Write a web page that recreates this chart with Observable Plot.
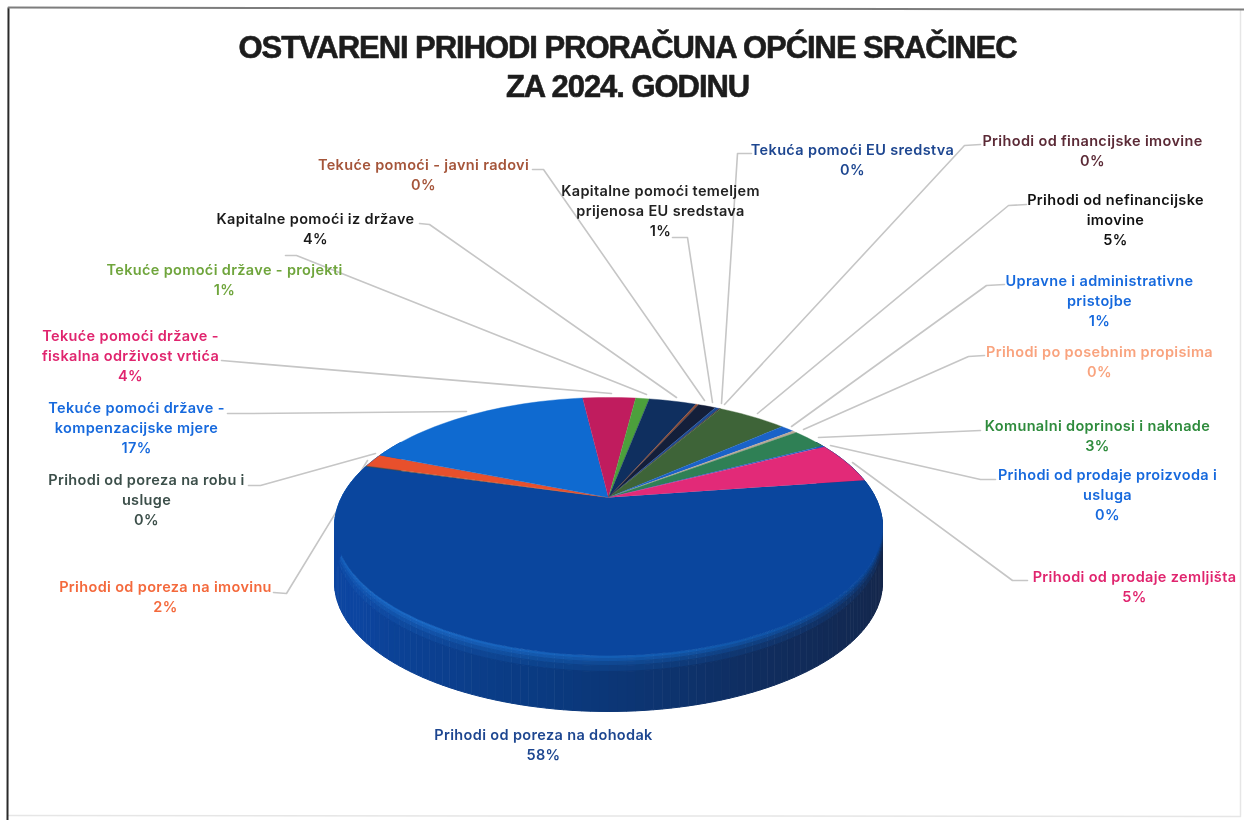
<!DOCTYPE html>
<html lang="hr">
<head>
<meta charset="utf-8">
<script src="https://cdn.jsdelivr.net/npm/d3@7"></script>
<script src="https://cdn.jsdelivr.net/npm/@observablehq/plot@0.6"></script>
<style>
html,body{margin:0;padding:0;background:#fff}
svg{display:block;filter:blur(.35px)}
g[font-size="31"]{letter-spacing:-1.05px}
g[font-size="14.5"]{letter-spacing:.35px}
</style>
</head>
<body>
<div id="chart"></div>
<script>
// Data: categories clockwise from the right-hand edge of the largest slice
const categories = [
  "Prihodi od poreza na dohodak","Prihodi od poreza na robu i\nusluge","Prihodi od poreza na imovinu",
  "Tekuće pomoći države -\nkompenzacijske mjere","Tekuće pomoći države -\nfiskalna održivost vrtića",
  "Tekuće pomoći države - projekti","Kapitalne pomoći iz države","Tekuće pomoći - javni radovi",
  "Kapitalne pomoći temeljem\nprijenosa EU sredstava","Tekuća pomoći EU sredstva",
  "Prihodi od financijske imovine","Prihodi od nefinancijske\nimovine","Upravne i administrativne\npristojbe",
  "Prihodi po posebnim propisima","Komunalni doprinosi i naknade","Prihodi od prodaje proizvoda i\nusluga",
  "Prihodi od prodaje zemljišta"
];
const values = [57.0,0.1,1.7,17.1,3.9,1.0,3.5,0.2,1.3,0.3,0.1,5.1,1.0,0.3,2.6,0.2,5.2];
const percentLabels = ["58%","0%","2%","17%","4%","1%","4%","0%","1%","0%","0%","5%","1%","0%","3%","0%","5%"];
const sliceColors = ["#0a469e","#3c4f4a","#e8502c","#0f6ad0","#c01c5e","#4ca03c","#0f2f5f","#8a4a34","#141f3a","#1c4a94","#3e2a30","#3e6438","#1a62c8","#b8a898","#2f8055","#1a62c8","#e22a78"];
const labelColors = ["#1d4690","#3c4f4a","#f4693c","#1669dd","#e0246e","#6fa53c","#1a1a1a","#a5553a","#222222","#1d4690","#5b2a36","#111111","#1669dd","#f9a37e","#2e8b3c","#1669dd","#e0246e"];

// Layout: label centres and leader lines
const labelX = [543,146,165,136,130,224,315,423,660,852,1092,1115,1099,1099,1097,1107,1134];
const labelY = [735,480,587,408,336,270,219,165,191,150,141,200,281,352,426,475,577];
const leaders = [
  [[367,460],[286,593],[273,592]],
  [[375,453],[260,485],[248,485]],
  [[466,411],[250,413],[227,413]],
  [[611,393],[221,360]],
  [[646,394],[296,255],[285,255]],
  [[676,397],[429,224],[419,223]],
  [[704,400],[543,169],[532,169]],
  [[712,402],[687,237],[672,237]],
  [[721,403],[737,153],[751,153]],
  [[724,404],[964,145],[980,144]],
  [[757,413],[1008,205],[1026,204]],
  [[791,426],[986,285],[1004,284]],
  [[803,429],[968,356],[984,355]],
  [[818,437],[980,430]],
  [[830,445],[980,479],[995,479]],
  [[852,462],[1012,580],[1027,580]]
];
const titleLines = ["OSTVARENI PRIHODI PRORAČUNA OPĆINE SRAČINEC","ZA 2024. GODINU"];

// Pie geometry: a tilted disc in perspective
const cx = 608, cy = 497, R = 267, S = 122.5, k = 0.2247, depth = 56;
const startDeg = 81.6;
const project = (deg, d = 0) => {
  const a = deg * Math.PI / 180, X = Math.sin(a), Y = Math.cos(a), f = 1 + k * Y;
  return [cx + R * X / f, cy - S * Y / f + d];
};
const total = d3.sum(values);
let run = startDeg;
const arcs = values.map((v, i) => {
  const a0 = run; run += v / total * 360;
  return {i, a0, a1: run};
});

const slicePts = arcs.flatMap(({i, a0, a1}) => {
  const n = Math.max(2, Math.ceil((a1 - a0) / 2));
  const pts = [{x: cx, y: cy, i, c: sliceColors[i]}];
  for (let j = 0; j <= n; j++) {
    const [x, y] = project(a0 + (a1 - a0) * j / n);
    pts.push({x, y, i, c: sliceColors[i]});
  }
  return pts;
});

// Shaded rim, cut in thin strips and depth bands round the front of the disc
const rimRamp = d3.scaleLinear()
  .domain([60, 110, 150, 190, 235, 290])
  .range(["#14264a", "#14264a", "#102c5c", "#0a3a80", "#0c45a0", "#0c45a0"])
  .interpolate(d3.interpolateRgb);
const bevelRamp = d3.scaleLinear()
  .domain([60, 120, 160, 215, 290])
  .range(["#0a3f8e", "#0a4596", "#1158ac", "#1a68c4", "#125cb8"])
  .interpolate(d3.interpolateRgb);
const bands = [[0, 3, 0], [3, 6, 0.25], [6, 10, 0.55], [10, 16, 0.8], [16, depth, 1]];
const strips = [];
const step = 1.5;
for (let a = 60, s = 0; a < 300; a += step, s++) {
  bands.forEach(([d0, d1, t], b) => {
    const c = d3.interpolateRgb(bevelRamp(a + step / 2), rimRamp(a + step / 2))(t);
    [[a, d0], [a + step, d0], [a + step, d1], [a, d1]].forEach(([ang, d]) => {
      const [x, y] = project(ang, d);
      strips.push({x, y, id: s * 10 + b, c});
    });
  });
}

const leaderPts = leaders.flatMap((l, i) => l.map(([x, y]) => ({x, y, i})));

const textRows = categories.flatMap((name, i) => {
  const lines = [...name.split("\n"), percentLabels[i]];
  return lines.map((t, j) => ({t, x: labelX[i], y: labelY[i] + j * 19.7, c: labelColors[i]}));
});
const titleRows = titleLines.map((t, j) => ({t, x: 627, y: 48 + j * 39}));

const frame = [
  {x: 8, y: 8, s: "a"}, {x: 7, y: 820, s: "a"},
  {x: 8, y: 7, s: "b"}, {x: 1244, y: 9, s: "b"}
];
const frameFaint = [
  {x: 1240, y: 10, s: "c"}, {x: 1240, y: 815, s: "c"},
  {x: 8, y: 815, s: "d"}, {x: 1240, y: 816, s: "d"}
];

const chart = Plot.plot({
  width: 1244, height: 820,
  margin: 0,
  style: {background: "#fff", overflow: "hidden"},
  x: {domain: [0, 1244], range: [0, 1244], axis: null},
  y: {domain: [0, 820], range: [0, 820], axis: null},
  color: {type: "identity"},
  marks: [
    Plot.line(frameFaint, {x: "x", y: "y", z: "s", stroke: "#e6e6e6", strokeWidth: 1.5}),
    Plot.line(frame.filter(d => d.s === "a"), {x: "x", y: "y", stroke: "#2a2a2a", strokeWidth: 2}),
    Plot.line(frame.filter(d => d.s === "b"), {x: "x", y: "y", stroke: "#7d7d7d", strokeWidth: 2}),
    Plot.line(leaderPts, {x: "x", y: "y", z: "i", stroke: "#c6c6c6", strokeWidth: 1.6, curve: "linear"}),
    Plot.line(strips, {x: "x", y: "y", z: "id", fill: "c", stroke: "c", strokeWidth: 1, curve: "linear"}),
    Plot.line(slicePts, {x: "x", y: "y", z: "i", fill: "c", stroke: "c", strokeWidth: 0.4, curve: "linear"}),
    Plot.text(textRows, {
      x: "x", y: "y", text: "t", fill: "c", textAnchor: "middle", lineAnchor: "middle",
      fontFamily: "Inter", fontSize: 14.5, fontWeight: 600
    }),
    Plot.text(titleRows, {
      x: "x", y: "y", text: "t", fill: "#1c1c1c", stroke: "#1c1c1c", strokeWidth: 0.6,
      textAnchor: "middle", lineAnchor: "middle",
      fontFamily: "Liberation Sans", fontSize: 31, fontWeight: 700
    })
  ]
});
document.getElementById("chart").appendChild(chart);
</script>
</body>
</html>
